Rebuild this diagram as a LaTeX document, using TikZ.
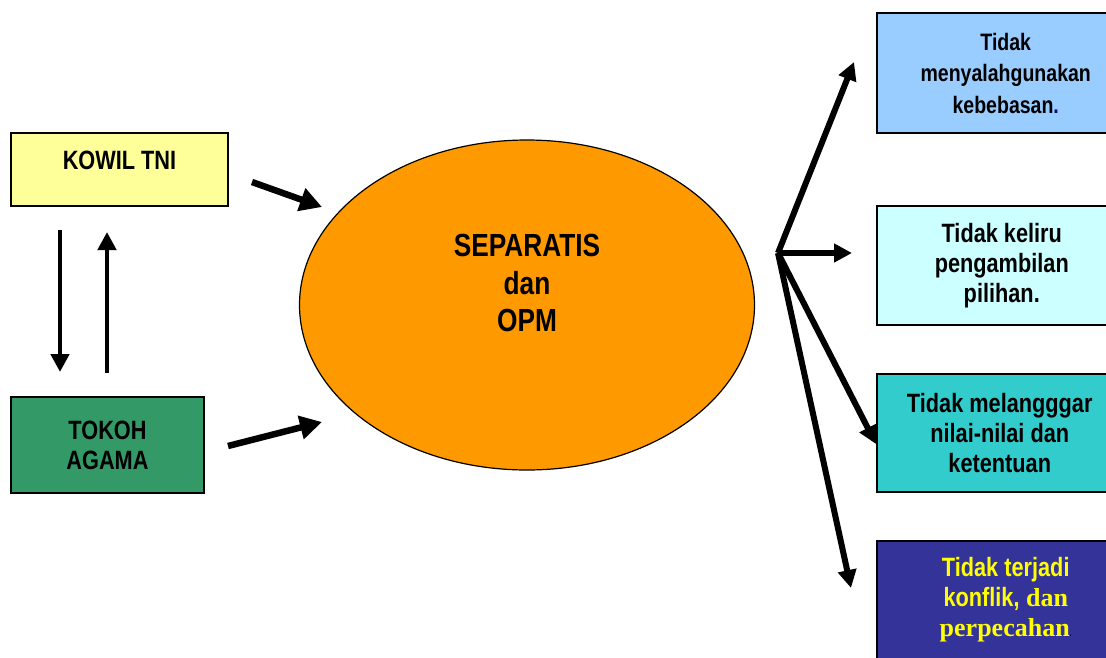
\documentclass[tikz,border=0pt]{standalone}
\usepackage{fontspec}
\setmainfont{Liberation Sans}[FakeStretch=0.82]
\newfontfamily\timesbf{Liberation Serif}
\usetikzlibrary{arrows.meta,shapes.geometric}

\definecolor{kuning}{HTML}{FFFF99}
\definecolor{hijau}{HTML}{339966}
\definecolor{biru}{HTML}{99CCFF}
\definecolor{birumuda}{HTML}{CCFFFF}
\definecolor{tosca}{HTML}{33CCCC}
\definecolor{ungu}{HTML}{333399}
\definecolor{oranye}{HTML}{FF9900}
\definecolor{tekskuning}{HTML}{FFFF00}
\definecolor{titik}{HTML}{000099}

\tikzset{
  kotak/.style={draw=black, line width=1.5pt, inner sep=0pt, align=center,
    font=\bfseries\fontsize{26.5}{30}\selectfont},
  hasil/.style={kotak, anchor=west, minimum height=119pt},
  panah/.style={line width=6pt, -{Triangle[length=18pt,width=18pt]}},
  panahbesar/.style={line width=6.5pt, -{Triangle[length=22pt,width=23pt]}},
}

\begin{document}
\begin{tikzpicture}[x=1pt,y=-1pt]
	\useasboundingbox (0,0) rectangle (1106,657);
	% kiri
		\node[kotak, fill=kuning, minimum width=217pt, minimum height=73pt, text height=19pt, text depth=19pt] (kowil) at (119.5,169.5) {KOWIL TNI};
		\node[kotak, fill=hijau, minimum width=193pt, minimum height=96pt] (tokoh) at (107.5,445) {TOKOH\\AGAMA};
	% tengah
		\node[ellipse, draw=black, line width=1.2pt, fill=oranye, minimum width=455pt, minimum height=330pt,
			label={[yshift=22pt, align=center, font=\bfseries\fontsize{32}{37.5}\selectfont]center:SEPARATIS\\dan\\OPM}] (separatis) at (527,305) {};
	% kanan
		\node[hasil, fill=biru, minimum width=258pt, minimum height=120pt, font=\bfseries\fontsize{23.8}{31.5}\selectfont] (r1) at (876,73) {Tidak\\menyalahgunakan\\kebebasan{\color{titik}.}};
		\node[hasil, fill=birumuda, minimum width=250pt] (r2) at (876,265.5) {Tidak keliru\\pengambilan\\pilihan.};
		\node[hasil, fill=tosca, minimum width=246pt, minimum height=118pt] (r3) at (876,433) {Tidak melangggar\\nilai-nilai dan\\ketentuan};
		\node[hasil, fill=ungu, minimum width=258pt, minimum height=118pt, text=tekskuning] (r4) at (876,600)
			{Tidak terjadi\\konflik,{\timesbf\fontsize{26}{31}\selectfont\ dan}\\{\timesbf\fontsize{26}{31}\selectfont perpecahan}{\color{black}\fontsize{9}{9}\selectfont.}};
	% ujung panah
		\coordinate (kw-a) at (252,182);
		\coordinate (kw-b) at (322,207);
		\coordinate (tk-a) at (228,446);
		\coordinate (tk-b) at (322,422);
		\coordinate (turun-a) at (60,230);
		\coordinate (turun-b) at (60,372);
		\coordinate (naik-a) at (107,373);
		\coordinate (naik-b) at (107,232);
		\coordinate (hub) at (778,253);
		\coordinate (t1) at (854,62);
		\coordinate (t2) at (852,253);
		\coordinate (t3) at (876,444);
		\coordinate (t4) at (851,588);
	% panah
		\draw[panahbesar] (kw-a) -- (kw-b);
		\draw[panahbesar] (tk-a) -- (tk-b);
		\draw[panah, line width=4.5pt] (turun-a) -- (turun-b);
		\draw[panah, line width=4.5pt] (naik-a) -- (naik-b);
		\draw[panah] (hub) -- (t1);
		\draw[panah] (hub) -- (t2);
		\draw[panah] (hub) -- (t3);
		\draw[panah] (hub) -- (t4);
\end{tikzpicture}
\end{document}
